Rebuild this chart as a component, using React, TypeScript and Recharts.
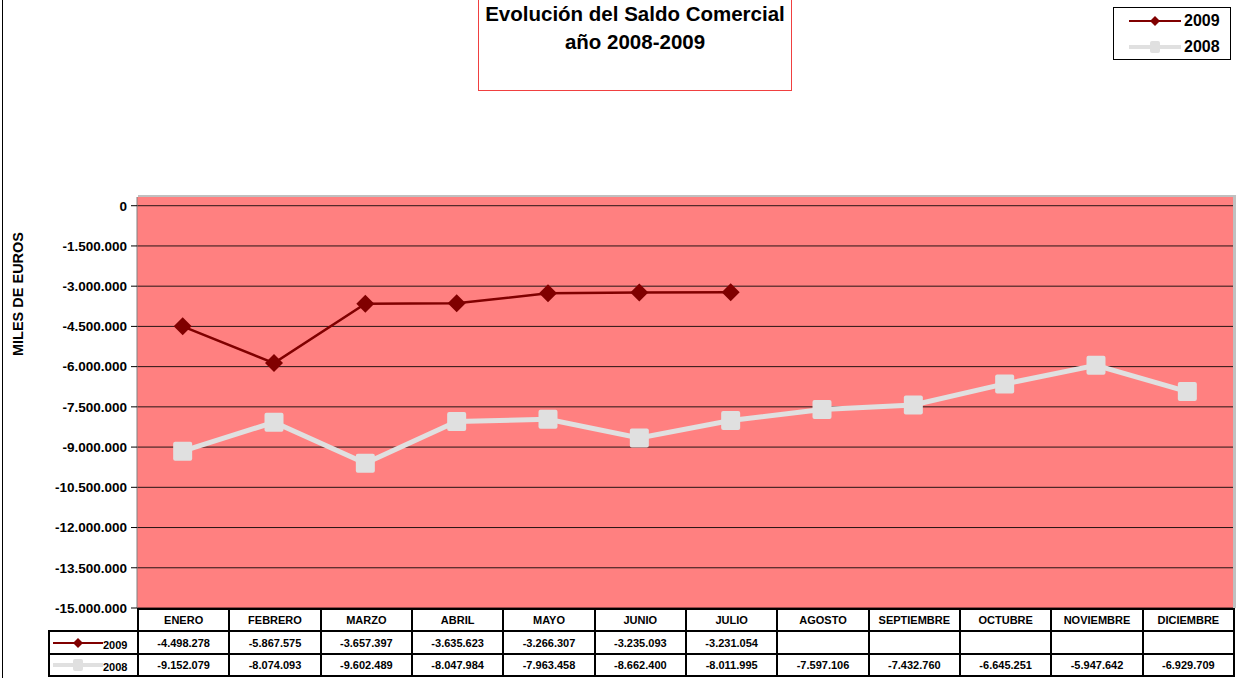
import React from "react";
import { LineChart, Line, XAxis, YAxis, CartesianGrid } from "recharts";

// ── Data ──────────────────────────────────────────────────────

const months = [
  "ENERO", "FEBRERO", "MARZO", "ABRIL", "MAYO", "JUNIO",
  "JULIO", "AGOSTO", "SEPTIEMBRE", "OCTUBRE", "NOVIEMBRE", "DICIEMBRE",
];

const saldo2009 = [
  -4498278, -5867575, -3657397, -3635623, -3266307, -3235093, -3231054,
];

const saldo2008 = [
  -9152079, -8074093, -9602489, -8047984, -7963458, -8662400,
  -8011995, -7597106, -7432760, -6645251, -5947642, -6929709,
];

const yTicks = [
  0, -1500000, -3000000, -4500000, -6000000, -7500000,
  -9000000, -10500000, -12000000, -13500000, -15000000,
];

// ── Layout ────────────────────────────────────────────────────

const W = 1241;
const H = 678;
const PLOT_L = 137;
const PLOT_R = 1233;
const PLOT_T = 197;
const PLOT_B = 608;
const COL_W = (PLOT_R - PLOT_L) / months.length;

const RED = "#800000";
const GREY = "#E0E0E0";
const FONT = "Arial, 'Liberation Sans', sans-serif";

const fmt = (v: number) => {
  const s = Math.abs(Math.round(v)).toString().replace(/\B(?=(\d{3})+(?!\d))/g, ".");
  return (v < 0 ? "-" : "") + s;
};

const data = months.map((m, i) => ({
  month: m,
  y2009: i < saldo2009.length ? saldo2009[i] : null,
  y2008: saldo2008[i],
}));

// ── Markers ───────────────────────────────────────────────────

const Diamond = (props: any) => {
  const { cx, cy } = props;
  if (cx == null || cy == null) return null;
  const r = 9;
  return (
    <polygon
      points={`${cx},${cy - r} ${cx + r},${cy} ${cx},${cy + r} ${cx - r},${cy}`}
      fill={RED}
    />
  );
};

const Square = (props: any) => {
  const { cx, cy } = props;
  if (cx == null || cy == null) return null;
  const r = 9.5;
  return <rect x={cx - r} y={cy - r} width={r * 2} height={r * 2} rx={2} fill={GREY} />;
};

// ── Legend sample ─────────────────────────────────────────────

const Sample: React.FC<{ kind: "d" | "s"; w: number }> = ({ kind, w }) => (
  <svg width={w} height={14} style={{ display: "block" }}>
    {kind === "d" ? (
      <>
        <line x1={0} y1={7} x2={w} y2={7} stroke={RED} strokeWidth={2} />
        <polygon points={`${w / 2},2 ${w / 2 + 5},7 ${w / 2},12 ${w / 2 - 5},7`} fill={RED} />
      </>
    ) : (
      <>
        <line x1={0} y1={7} x2={w} y2={7} stroke={GREY} strokeWidth={4} strokeLinecap="round" />
        <rect x={w / 2 - 5} y={1} width={10} height={12} rx={2} fill={GREY} />
      </>
    )}
  </svg>
);

// ── Data table ────────────────────────────────────────────────

const cellBase: React.CSSProperties = {
  position: "absolute",
  boxSizing: "border-box",
  border: "2px solid #000",
  display: "flex",
  alignItems: "center",
  justifyContent: "center",
  fontSize: 11,
  fontWeight: "bold",
  fontFamily: FONT,
  background: "#fff",
};

const rowsY = [608, 630, 653, 677];

const DataTable: React.FC = () => {
  const cells: React.ReactNode[] = [];
  months.forEach((m, i) => {
    const left = PLOT_L + i * COL_W;
    cells.push(
      <div key={"h" + i} style={{ ...cellBase, left, top: rowsY[0], width: COL_W + 2, height: rowsY[1] - rowsY[0] + 2 }}>
        {m}
      </div>
    );
    cells.push(
      <div key={"a" + i} style={{ ...cellBase, left, top: rowsY[1], width: COL_W + 2, height: rowsY[2] - rowsY[1] + 2 }}>
        {i < saldo2009.length ? fmt(saldo2009[i]) : ""}
      </div>
    );
    cells.push(
      <div key={"b" + i} style={{ ...cellBase, left, top: rowsY[2], width: COL_W + 2, height: rowsY[3] - rowsY[2] }}>
        {fmt(saldo2008[i])}
      </div>
    );
  });
  cells.push(
    <div key="l1" style={{ ...cellBase, left: 48, top: rowsY[1], width: PLOT_L - 48 + 2, height: rowsY[2] - rowsY[1] + 2, justifyContent: "flex-start", paddingLeft: 3 }}>
      <Sample kind="d" w={50} />
      <span style={{ marginTop: 4 }}>2009</span>
    </div>
  );
  cells.push(
    <div key="l2" style={{ ...cellBase, left: 48, top: rowsY[2], width: PLOT_L - 48 + 2, height: rowsY[3] - rowsY[2], justifyContent: "flex-start", paddingLeft: 3 }}>
      <Sample kind="s" w={50} />
      <span style={{ marginTop: 4 }}>2008</span>
    </div>
  );
  return <>{cells}</>;
};

// ── App ───────────────────────────────────────────────────────

export default function App() {
  return (
    <div style={{ position: "absolute", left: 0, top: 0, width: W, height: H, background: "#fff", overflow: "hidden", fontFamily: FONT }}>
      {/* left frame line */}
      <div style={{ position: "absolute", left: 2, top: 0, width: 1, height: H, background: "#000" }} />

      {/* plot shadow */}
      <div style={{ position: "absolute", left: PLOT_L + 1, top: PLOT_T - 2, width: PLOT_R - PLOT_L + 2, height: PLOT_B - PLOT_T + 2, background: "#c0c0c0" }} />

      <div style={{ position: "absolute", left: 0, top: 0 }}>
        <LineChart
          width={W}
          height={H}
          data={data}
          margin={{ top: PLOT_T, right: W - PLOT_R, bottom: H - PLOT_B, left: 0 }}
        >
          <CartesianGrid
            horizontal
            vertical={false}
            stroke="#000"
            strokeOpacity={0.85}
            fill="#FF8080"
            fillOpacity={1}
            horizontalValues={yTicks}
          />
          <XAxis dataKey="month" hide padding={{ left: COL_W / 2, right: COL_W / 2 }} />
          <YAxis
            type="number"
            domain={[-15000000, 325000]}
            allowDataOverflow
            ticks={yTicks}
            interval={0}
            width={PLOT_L}
            tickFormatter={fmt}
            tickSize={6}
            tickMargin={4}
            tick={{ fontSize: 13.5, fontWeight: "bold", fill: "#000", fontFamily: FONT }}
            axisLine={{ stroke: "#808080" }}
            tickLine={{ stroke: "#000" }}
          />
          <Line
            dataKey="y2008"
            stroke={GREY}
            strokeWidth={5}
            dot={<Square />}
            activeDot={false}
            isAnimationActive={false}
          />
          <Line
            dataKey="y2009"
            stroke={RED}
            strokeWidth={2.5}
            dot={<Diamond />}
            activeDot={false}
            connectNulls={false}
            isAnimationActive={false}
          />
        </LineChart>
      </div>

      {/* y axis title */}
      <div
        style={{
          position: "absolute",
          left: 18,
          top: 294,
          transform: "translate(-50%, -50%) rotate(-90deg)",
          fontSize: 14.5,
          fontWeight: "bold",
          whiteSpace: "nowrap",
        }}
      >
        MILES DE EUROS
      </div>

      {/* title box */}
      <div
        style={{
          position: "absolute",
          left: 478,
          top: -1,
          width: 314,
          height: 92,
          boxSizing: "border-box",
          border: "1px solid #F04040",
          textAlign: "center",
          fontSize: 20.5,
          fontWeight: "bold",
          lineHeight: "28px",
        }}
      >
        Evolución del Saldo Comercial
        <br />
        año 2008-2009
      </div>

      {/* legend */}
      <div
        style={{
          position: "absolute",
          left: 1113,
          top: 7,
          width: 118,
          height: 53,
          boxSizing: "border-box",
          border: "1px solid #000",
          fontSize: 16,
          fontWeight: "bold",
        }}
      >
        <div style={{ position: "absolute", left: 15, top: 4, display: "flex", alignItems: "center", gap: 3 }}>
          <Sample kind="d" w={52} />
          <span>2009</span>
        </div>
        <div style={{ position: "absolute", left: 15, top: 30, display: "flex", alignItems: "center", gap: 3 }}>
          <Sample kind="s" w={52} />
          <span>2008</span>
        </div>
      </div>

      <DataTable />
    </div>
  );
}
